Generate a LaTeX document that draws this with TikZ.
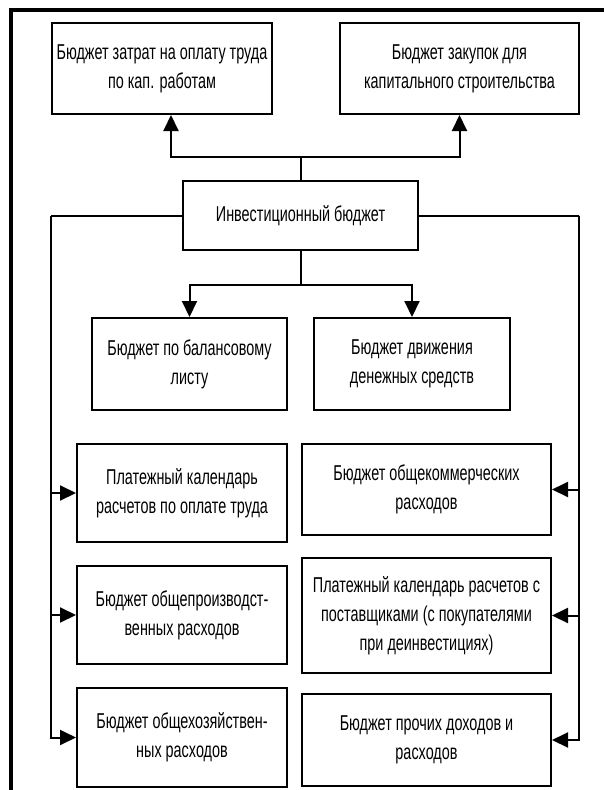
\documentclass[tikz,border=0pt]{standalone}
\usepackage{fontspec}
\setmainfont{Liberation Sans}[FakeStretch=0.67]
\usetikzlibrary{arrows.meta}
\begin{document}
\begin{tikzpicture}[x=1pt,y=-1pt]
	\tikzstyle{budget} = [draw,line width=2pt,anchor=north west,align=center,inner sep=2pt,font=\fontsize{21.5}{29}\selectfont]
	\tikzstyle{link} = [line width=2pt,-{Triangle[length=16pt,width=15pt]}]
	
		\useasboundingbox (0,0) rectangle (604,790);
		\draw[line width=4pt] (11,790) -- (11,10) -- (604,10);
		
		\node[budget,minimum width=220pt,minimum height=91pt] (b1) at (51,22) {Бюджет затрат на оплату труда\\по кап. работам};
		\node[budget,minimum width=239pt,minimum height=91pt] (b2) at (339,22) {Бюджет закупок для\\капитального строительства};
		\node[budget,minimum width=235pt,minimum height=69pt] (b3) at (182,180) {Инвестиционный бюджет};
		\node[budget,minimum width=195pt,minimum height=92pt] (b4) at (91,317) {Бюджет по балансовому\\листу};
		\node[budget,minimum width=196pt,minimum height=92pt] (b5) at (313,317) {Бюджет движения\\денежных средств};
		
		\node[budget,minimum width=210pt,minimum height=98pt] (b6) at (76,443) {Платежный календарь\\расчетов по оплате труда};
		\node[budget,minimum width=249pt,minimum height=91pt] (b7) at (301,443) {Бюджет общекоммерческих\\расходов};
		\node[budget,minimum width=210pt,minimum height=98pt] (b8) at (76,565) {Бюджет общепроизводст-\\венных расходов};
		\node[budget,minimum width=249pt,minimum height=115pt] (b9) at (301,557) {Платежный календарь расчетов с\\поставщиками (с покупателями\\при деинвестициях)};
		\node[budget,minimum width=210pt,minimum height=99pt] (b10) at (76,687) {Бюджет общехозяйствен-\\ных расходов};
		\node[budget,minimum width=249pt,minimum height=92pt] (b11) at (301,693) {Бюджет прочих доходов и\\расходов};
		
		% up and down
		\draw[link] (b3.north) -- ++(0,-23) -| ([xshift=9pt]b1.south);
		\draw[link] (b3.north) -- ++(0,-23) -| (b2.south);
		\draw[link] (b3.south) -- ++(0,34) -| (b4.north);
		\draw[link] (b3.south) -- ++(0,34) -| (b5.north);
		
		% side buses
		\draw[line width=2pt] (b3.west) -- ++(-131,0) coordinate (busl);
		\draw[line width=2pt] (b3.east) -- ++(160,0) coordinate (busr);
		\draw[link] (busl) |- (b6.west);
		\draw[link] (busl) |- (b8.west);
		\draw[link] (busl) |- (b10.west);
		\draw[link] (busr) |- (b7.east);
		\draw[link] (busr) |- (b9.east);
		\draw[link] (busr) |- (b11.east);
		
\end{tikzpicture}
\end{document}
